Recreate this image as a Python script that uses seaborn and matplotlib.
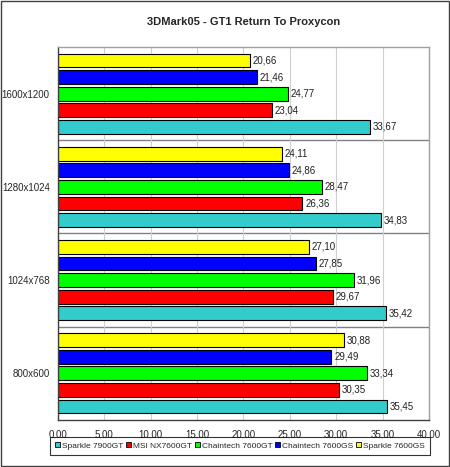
import numpy as np
import pandas as pd
import matplotlib
matplotlib.use("Agg")
import matplotlib.pyplot as plt
import seaborn as sns
from matplotlib.patches import Patch, Rectangle
from matplotlib.ticker import FuncFormatter

resolutions = ["1600x1200", "1280x1024", "1024x768", "800x600"]
cards = ["Sparkle 7600GS", "Chaintech 7600GS", "Chaintech 7600GT",
         "MSI NX7600GT", "Sparkle 7900GT"]
sparkle_7600gs = [20.66, 24.11, 27.10, 30.88]
chaintech_7600gs = [21.46, 24.86, 27.85, 29.49]
chaintech_7600gt = [24.77, 28.47, 31.96, 33.34]
msi_nx7600gt = [23.04, 26.36, 29.67, 30.35]
sparkle_7900gt = [33.67, 34.83, 35.42, 35.45]
colors = ["#FFFF00", "#0000FF", "#00FF00", "#FF0000", "#33CCCC"]

series = [sparkle_7600gs, chaintech_7600gs, chaintech_7600gt,
          msi_nx7600gt, sparkle_7900gt]
rows = []
for card, vals in zip(cards, series):
    for res, v in zip(resolutions, vals):
        rows.append({"res": res, "card": card, "fps": v})
df = pd.DataFrame(rows)

sns.set_style("white")
plt.rcParams["font.family"] = ["Liberation Sans", "DejaVu Sans"]

fig = plt.figure(figsize=(4.5, 4.67), dpi=100)
ax = fig.add_axes([0.129, 0.101, 0.824, 0.798])

sns.barplot(data=df, y="res", x="fps", hue="card", order=resolutions,
            hue_order=cards, palette=colors, orient="h", width=0.89,
            gap=0.17, edgecolor="black", linewidth=0.8, saturation=1,
            legend=False, ax=ax)

for cont in ax.containers:
    ax.bar_label(cont, labels=[f"{v:.2f}".replace(".", ",") for v in cont.datavalues],
                 padding=2, fontsize=7, color="#202020")

fmt = FuncFormatter(lambda v, p: f"{v:.2f}".replace(".", ","))
ax.set_xlim(0, 40)
ax.set_xticks(np.arange(0, 41, 5))
ax.xaxis.set_major_formatter(fmt)
ax.set_ylim(len(resolutions) - 0.5, -0.5)
ax.set_yticks(range(len(resolutions)))
ax.set_yticklabels(resolutions)
ax.set_yticks(np.arange(-0.5, len(resolutions), 1), minor=True)
ax.tick_params(axis="y", which="major", length=0, labelsize=7, pad=6)
ax.tick_params(axis="y", which="minor", length=4, color="#404040", direction="out")
ax.tick_params(axis="x", length=4, color="#404040", direction="out", labelsize=7, pad=3)
ax.set_xlabel("")
ax.set_ylabel("")

ax.grid(axis="x", color="#D0D0D0", linewidth=0.8)
ax.set_axisbelow(True)
for b in np.arange(0.5, len(resolutions) - 0.5, 1):
    ax.axhline(b, color="#808080", linewidth=1.0, zorder=0.5)

for side in ["left", "bottom"]:
    ax.spines[side].set_color("#404040")
    ax.spines[side].set_linewidth(1.0)
for side in ["top", "right"]:
    ax.spines[side].set_color("#A0A0A0")
    ax.spines[side].set_linewidth(1.0)

ax.set_title("3DMark05 - GT1 Return To Proxycon", fontsize=8, fontweight="bold", pad=16)

handles = [Patch(facecolor=c, edgecolor="black", linewidth=0.6)
           for c in colors[::-1]]
leg = fig.legend(handles, cards[::-1], loc="center", bbox_to_anchor=(0.533, 0.045),
                 ncol=5, fontsize=6, frameon=True, fancybox=False,
                 handlelength=0.6, handleheight=0.6, handletextpad=0.25,
                 columnspacing=0.3, borderpad=0.6, borderaxespad=0,
                 edgecolor="black")
leg.get_frame().set_linewidth(0.8)

fig.patches.append(Rectangle((0.002, 0.002), 0.996, 0.996, transform=fig.transFigure,
                             fill=False, edgecolor="#404040", linewidth=1.0))

fig.savefig("out.png", dpi=100)
